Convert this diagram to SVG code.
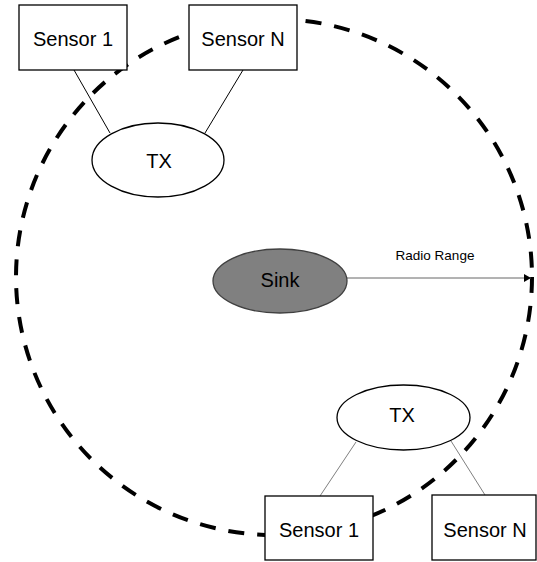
<svg xmlns="http://www.w3.org/2000/svg" width="537" height="562" viewBox="0 0 537 562">
<style>
.box{fill:#fff;stroke:#000;stroke-width:1.3}
.ell{fill:#fff;stroke:#000;stroke-width:1.3}
.t{font-family:"Liberation Sans",Arial,sans-serif;font-size:20px;fill:#000;text-anchor:middle}
.link{stroke:#000;stroke-width:1;fill:none}
.link2{stroke:#808080;stroke-width:1;fill:none}
</style>
<defs>
<marker id="ah" markerWidth="8" markerHeight="8" refX="7" refY="4" orient="auto" markerUnits="userSpaceOnUse">
<path d="M0,0 L7,4 L0,8 Z" fill="#000"/>
</marker>
</defs>
<rect width="537" height="562" fill="#fff"/>
<circle cx="274" cy="277" r="258" fill="none" stroke="#000" stroke-width="4" stroke-dasharray="16 13"/>
<g id="connectors">
<line class="link" x1="74" y1="70" x2="110" y2="133"/>
<line class="link" x1="243" y1="70" x2="205" y2="133"/>
<line class="link2" x1="356" y1="442" x2="320" y2="496"/>
<line class="link2" x1="451" y1="441" x2="485" y2="495"/>
<line x1="347" y1="278" x2="531" y2="278" stroke="#666" stroke-width="1" marker-end="url(#ah)"/>
<text class="t" x="435" y="260" style="font-size:13.5px">Radio Range</text>
</g>
<g id="sensor1-top">
<rect class="box" x="19" y="5" width="108" height="65"/>
<text class="t" x="73" y="46">Sensor 1</text>
</g>
<g id="sensorN-top">
<rect class="box" x="189" y="5" width="108" height="65"/>
<text class="t" x="243" y="46">Sensor N</text>
</g>
<g id="tx-top">
<ellipse class="ell" cx="158" cy="160" rx="66" ry="37"/>
<text class="t" x="159" y="168">TX</text>
</g>
<g id="sink">
<ellipse cx="280" cy="281" rx="67" ry="32" fill="#808080" stroke="#404040" stroke-width="1.3"/>
<text class="t" x="280" y="287">Sink</text>
</g>
<g id="tx-bottom">
<ellipse class="ell" cx="403.5" cy="417.5" rx="66.5" ry="32.5"/>
<text class="t" x="402" y="422">TX</text>
</g>
<g id="sensor1-bottom">
<rect class="box" x="265" y="496" width="108" height="64"/>
<text class="t" x="319" y="537">Sensor 1</text>
</g>
<g id="sensorN-bottom">
<rect class="box" x="432" y="495" width="104" height="65"/>
<text class="t" x="485" y="537">Sensor N</text>
</g>
</svg>
